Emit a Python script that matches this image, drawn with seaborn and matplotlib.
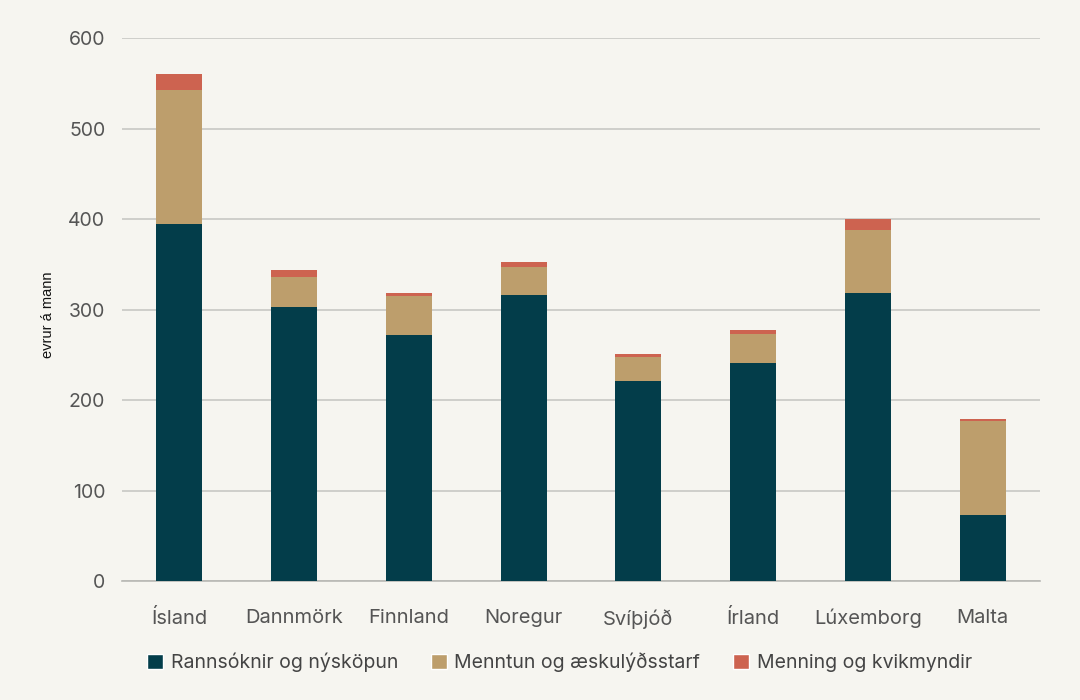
import seaborn as sns
import matplotlib.pyplot as plt
import pandas as pd
import numpy as np
from matplotlib.patches import Patch

countries = ["Ísland", "Dannmörk", "Finnland", "Noregur", "Svíþjóð", "Írland", "Lúxemborg", "Malta"]
rannsoknir = [394, 303, 272, 316, 221, 241, 318, 73]
menntun = [148, 33, 43, 31, 27, 32, 70, 104]
menning = [18, 8, 3, 5, 3, 4, 12, 2]

series_names = ["Rannsóknir og nýsköpun", "Menntun og æskulýðsstarf", "Menning og kvikmyndir"]
colors = ["#033d4a", "#bd9e6c", "#cd6350"]
bg = "#f6f5f0"

df = pd.DataFrame({"land": countries, "r": rannsoknir, "m": menntun, "k": menning})
df["c1"] = df["r"]
df["c2"] = df["r"] + df["m"]
df["c3"] = df["c2"] + df["k"]

sns.set_theme(style="white")
plt.rcParams["font.family"] = ["Inter", "DejaVu Sans"]

fig = plt.figure(figsize=(10.8, 7), dpi=100, facecolor=bg)
ax = fig.add_axes([0.113, 0.17, 0.85, 0.7757])
ax.set_facecolor(bg)

# stacked: draw tallest first
for col, c in zip(["c3", "c2", "c1"], colors[::-1]):
    sns.barplot(data=df, x="land", y=col, color=c, width=0.4, saturation=1,
                ax=ax, zorder=3, linewidth=0)

ax.set_ylim(0, 600)
ax.set_xlim(-0.5, 7.5)
ax.set_yticks(range(0, 601, 100))
ax.yaxis.grid(True, color="#c8c8c4", linewidth=1.2, zorder=0)
ax.xaxis.grid(False)
for s in ["top", "right", "left"]:
    ax.spines[s].set_visible(False)
ax.spines["bottom"].set_color("#b8b8b4")
ax.spines["bottom"].set_linewidth(1.2)
ax.tick_params(axis="y", length=0, pad=12, labelsize=14, labelcolor="#555555")
ax.tick_params(axis="x", length=0, pad=20, labelsize=14.5, labelcolor="#555555")
ax.set_xlabel("")
ax.set_ylabel("evrur á mann", fontsize=10.5, color="#111111",
              family=["Liberation Sans", "DejaVu Sans"])
ax.yaxis.set_label_coords(-0.073, 0.49)

handles = [Patch(facecolor=c, label=n) for c, n in zip(colors, series_names)]
fig.legend(handles=handles, loc="center", bbox_to_anchor=(0.518, 0.054), ncol=3,
           frameon=False, fontsize=14, handlelength=0.8, handleheight=0.8,
           handletextpad=0.4, columnspacing=1.7, labelcolor="#444444")

fig.savefig("out.png", dpi=100, facecolor=bg)
